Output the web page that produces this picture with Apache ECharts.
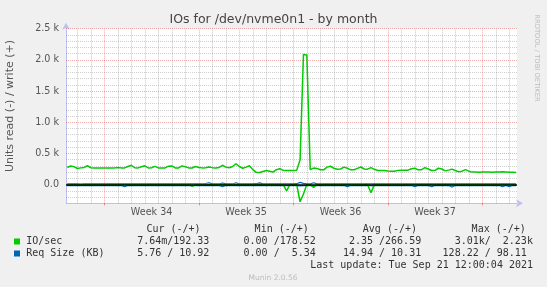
<!DOCTYPE html>
<html><head><meta charset="utf-8">
<script src="https://cdn.jsdelivr.net/npm/echarts@6/dist/echarts.min.js"></script>
<style>html,body{margin:0;padding:0;background:#f0f0f0}#c{width:547px;height:287px}</style>
</head><body><div id="c"></div>
<script>
// Time axis in days; day 0 = Sunday 2021-08-22 00:00. Samples every 6 hours.
const sampleStartDay = -2.75;
const sampleStepDays = 0.25;
const xMinDay = -2.84;
const xMaxDay = 30.57;

// IO/sec write (+)
const ioWrite = [
 275,298,288,258,268,275,302,270,268,268,
 268,268,267,268,268,275,268,268,290,310,
 270,268,285,302,268,270,292,268,266,268,
 295,300,268,268,300,285,268,266,290,275,
 268,270,282,272,266,275,310,280,270,290,
 334,290,262,280,302,240,196,194,210,226,
 215,200,240,255,228,226,226,226,228,400,
 2085,2080,240,265,260,237,237,280,295,262,
 247,250,280,262,237,237,260,282,250,248,
 272,245,226,226,226,218,215,215,228,232,
 230,232,255,262,237,240,272,250,226,228,
 262,250,220,232,248,225,205,215,240,215,
 200,200,199,200,200,200,199,200,200,205,
 202,199,198,192
];
// IO/sec read (-)
const ioRead = [
 0,0,0,0,0,0,0,0,0,0,
 0,0,0,0,0,0,0,0,0,0,
 0,0,0,0,0,0,0,0,0,0,
 0,0,0,0,0,0,0,30,0,0,
 0,0,0,0,0,0,0,0,0,0,
 0,0,0,0,0,0,0,0,0,0,
 0,0,0,0,0,100,0,0,0,275,
 150,0,0,45,0,0,0,0,0,0,
 0,0,0,0,0,0,0,0,0,0,
 130,0,0,0,0,0,0,0,0,0,
 0,0,0,0,0,0,0,0,0,0,
 0,0,0,0,0,0,0,0,0,0,
 0,0,0,0,0,0,0,0,0,0,
 0,0,0,0
];
// Req Size (KB) write (+)
const reqWrite = [
 10,11,10,10,9,10,11,10,10,10,
 10,10,11,10,10,10,10,10,11,10,
 10,10,10,11,10,10,10,10,10,11,
 10,10,10,10,11,10,10,10,10,10,
 11,18,30,12,10,10,25,11,10,10,
 30,12,10,10,11,12,14,28,12,10,
 10,11,10,10,10,11,10,12,14,35,
 20,12,10,30,12,10,10,11,10,10,
 10,10,11,10,10,10,10,11,10,10,
 12,10,10,10,11,10,10,10,10,10,
 10,11,10,10,10,10,11,10,10,10,
 10,10,11,10,10,10,10,11,10,10,
 11,11,11,11,11,11,11,11,11,11,
 11,11,11,11
];
// Req Size (KB) read (-)
const reqRead = [
 15,15,15,15,15,15,15,15,15,15,
 15,15,15,15,15,15,15,35,15,15,
 15,15,15,15,15,15,15,15,15,15,
 15,15,15,15,15,15,15,15,15,15,
 15,15,15,15,15,15,35,15,15,15,
 15,15,15,15,15,15,15,15,15,15,
 15,15,15,15,15,15,15,15,15,20,
 15,15,15,15,15,15,15,15,15,15,
 15,15,15,35,15,15,15,15,15,15,
 15,15,15,15,15,15,15,15,15,15,
 15,15,15,35,15,15,15,15,35,15,
 15,15,15,15,38,15,15,15,15,15,
 15,15,15,15,15,15,15,15,15,35,
 15,35,15,15
];

const weekLabels = ['Week 34','Week 35','Week 36','Week 37'];
const weekLabelDays = [3.5, 10.5, 17.5, 24.5];
const weekStartDays = [0, 7, 14, 21, 28];
const dayTickDays = [-2,-1,1,2,3,4,5,6,8,9,10,11,12,13,15,16,17,18,19,20,22,23,24,25,26,27,29,30];
const yMajorTicks = [0, 500, 1000, 1500, 2000, 2500];
const yMajorLabels = ['0.0', '0.5 k', '1.0 k', '1.5 k', '2.0 k', '2.5 k'];
const yMinorTicks = [-200,-100,100,200,300,400,600,700,800,900,1100,1200,1300,1400,1600,1700,1800,1900,2100,2200,2300,2400];

const legendHeaders = ['Cur (-/+)', 'Min (-/+)', 'Avg (-/+)', 'Max (-/+)'];
const ioStats = ['  7.64m/192.33 ', '  0.00 /178.52 ', '  2.35 /266.59 ', '  3.01k/  2.23k'];
const reqStats = ['  5.76 / 10.92 ', '  0.00 /  5.34 ', ' 14.94 / 10.31 ', '128.22 / 98.11 '];
const seriesNames = ['IO/sec', 'Req Size (KB)'];

const GREEN = '#00CC00', BLUE = '#0066B3';
const AXIS = '#c0c0f0';
const MAJOR = 'rgba(220,70,70,0.45)';
const MINOR_H = 'rgba(130,130,130,0.38)';
const MINOR_V = 'rgba(120,120,120,0.42)';
const SANS = '"DejaVu Sans", sans-serif';
const MONO = '"DejaVu Sans Mono", monospace';

const xs = ioWrite.map((_, i) => sampleStartDay + i * sampleStepDays);
const pairs = (arr, sign) => arr.map((v, i) => [xs[i], sign * v]);

function text(x, y, str, o) {
  return Object.assign({ type: 'text', x, y, silent: true,
    style: Object.assign({ text: str, fill: '#333', font: '10px ' + MONO, align: 'left', verticalAlign: 'middle' }, o || {}) });
}

const graphics = [
  text(273.5, 20, 'IOs for /dev/nvme0n1 - by month', { font: '12.5px ' + SANS, align: 'center', fill: '#444' }),
  Object.assign(text(10, 106, 'Units read (-) / write (+)', { font: '11px ' + SANS, align: 'center', fill: '#555' }), { rotation: Math.PI / 2 }),
  Object.assign(text(537, 58, 'RRDTOOL / TOBI OETIKER', { font: '6.8px ' + SANS, align: 'center', fill: '#bbb' }), { rotation: -Math.PI / 2 }),
  { type: 'rect', shape: { x: 14, y: 238.5, width: 6, height: 6 }, style: { fill: GREEN } },
  { type: 'rect', shape: { x: 14, y: 250.5, width: 6, height: 6 }, style: { fill: BLUE } },
  text(26.2, 241.5, seriesNames[0]),
  text(26.2, 253.5, seriesNames[1]),
  text(533, 265.8, 'Last update: Tue Sep 21 12:00:04 2021', { align: 'right' }),
  text(273, 278.5, 'Munin 2.0.56', { font: '7.5px ' + SANS, align: 'center', fill: '#bbb' })
];
const headerRight = [200.6, 308.8, 417, 525.8];
const statRight = [215.4, 321.8, 427.2, 532.9];
legendHeaders.forEach((h, k) => graphics.push(text(headerRight[k], 229, h, { align: 'right' })));
ioStats.forEach((s, k) => graphics.push(text(statRight[k], 241.5, s, { align: 'right' })));
reqStats.forEach((s, k) => graphics.push(text(statRight[k], 253.5, s, { align: 'right' })));

// Grid lines drawn as mark lines through the axes' scales
const gridLines = [].concat(
  dayTickDays.map(d => ({ xAxis: d, lineStyle: { color: MINOR_V, type: [1, 1], width: 1 } })),
  yMinorTicks.map(v => ({ yAxis: v, lineStyle: { color: MINOR_H, type: [1, 1], width: 1 } })),
  weekStartDays.map(d => ({ xAxis: d, lineStyle: { color: MAJOR, type: [1, 1], width: 1 } })),
  yMajorTicks.filter(v => v !== 0).map(v => ({ yAxis: v, lineStyle: { color: MAJOR, type: [1, 1], width: 1 } }))
);

const lineSeries = (name, data, color, width, z) => ({
  name, type: 'line', data, symbol: 'none', z, animation: false,
  lineStyle: { color, width }, itemStyle: { color }
});

const chart = echarts.init(document.getElementById('c'), null, { renderer: 'canvas' });
chart.setOption({
  backgroundColor: '#f0f0f0',
  animation: false,
  grid: { left: 66, right: 30, top: 28.7, bottom: 83.7, show: true, backgroundColor: '#ffffff', borderWidth: 0 },
  xAxis: [
    { type: 'value', min: xMinDay, max: xMaxDay, position: 'bottom',
      axisLine: { show: true, onZero: false, lineStyle: { color: AXIS, width: 1 }, symbol: ['none', 'arrow'], symbolSize: [6, 7], symbolOffset: [0, 6] },
      axisTick: { show: true, customValues: weekStartDays, length: 2, lineStyle: { color: '#e08080' } },
      splitLine: { show: false },
      axisLabel: { show: true, customValues: weekLabelDays, margin: 4, color: '#555', fontFamily: SANS, fontSize: 9.6,
        formatter: v => weekLabels[weekLabelDays.indexOf(v)] || '' } },
    { type: 'value', min: xMinDay, max: xMaxDay, position: 'bottom',
      axisLine: { show: false },
      axisTick: { show: true, customValues: dayTickDays, length: 2, lineStyle: { color: '#cccccc' } },
      splitLine: { show: false },
      axisLabel: { show: false } }
  ],
  yAxis: [
    { type: 'value', min: -300, max: 2500, position: 'left',
      axisLine: { show: true, onZero: false, lineStyle: { color: AXIS, width: 1 }, symbol: ['none', 'arrow'], symbolSize: [6, 7], symbolOffset: [0, 6] },
      axisTick: { show: false, customValues: yMajorTicks },
      splitLine: { show: false },
      axisLabel: { show: true, customValues: yMajorTicks, margin: 7, color: '#555', fontFamily: SANS, fontSize: 9.6,
        formatter: v => yMajorLabels[yMajorTicks.indexOf(v)] } }
  ],
  series: [
    Object.assign(lineSeries('Req Size write', pairs(reqWrite, 1), BLUE, 1.2, 2), {
      markLine: { silent: true, z: 1, symbol: 'none', label: { show: false }, animation: false, data: gridLines } }),
    lineSeries('Req Size read', pairs(reqRead, -1), BLUE, 1.2, 2),
    Object.assign(lineSeries('IO read', pairs(ioRead, -1), GREEN, 1.5, 3), {
      markLine: { silent: true, z: 3.5, symbol: 'none', label: { show: false }, animation: false,
        lineStyle: { color: '#000', width: 1.5, type: 'solid' }, data: [{ yAxis: 0 }] } }),
    lineSeries('IO write', pairs(ioWrite, 1), GREEN, 1.5, 4)
  ],
  graphic: graphics
});
</script></body></html>
